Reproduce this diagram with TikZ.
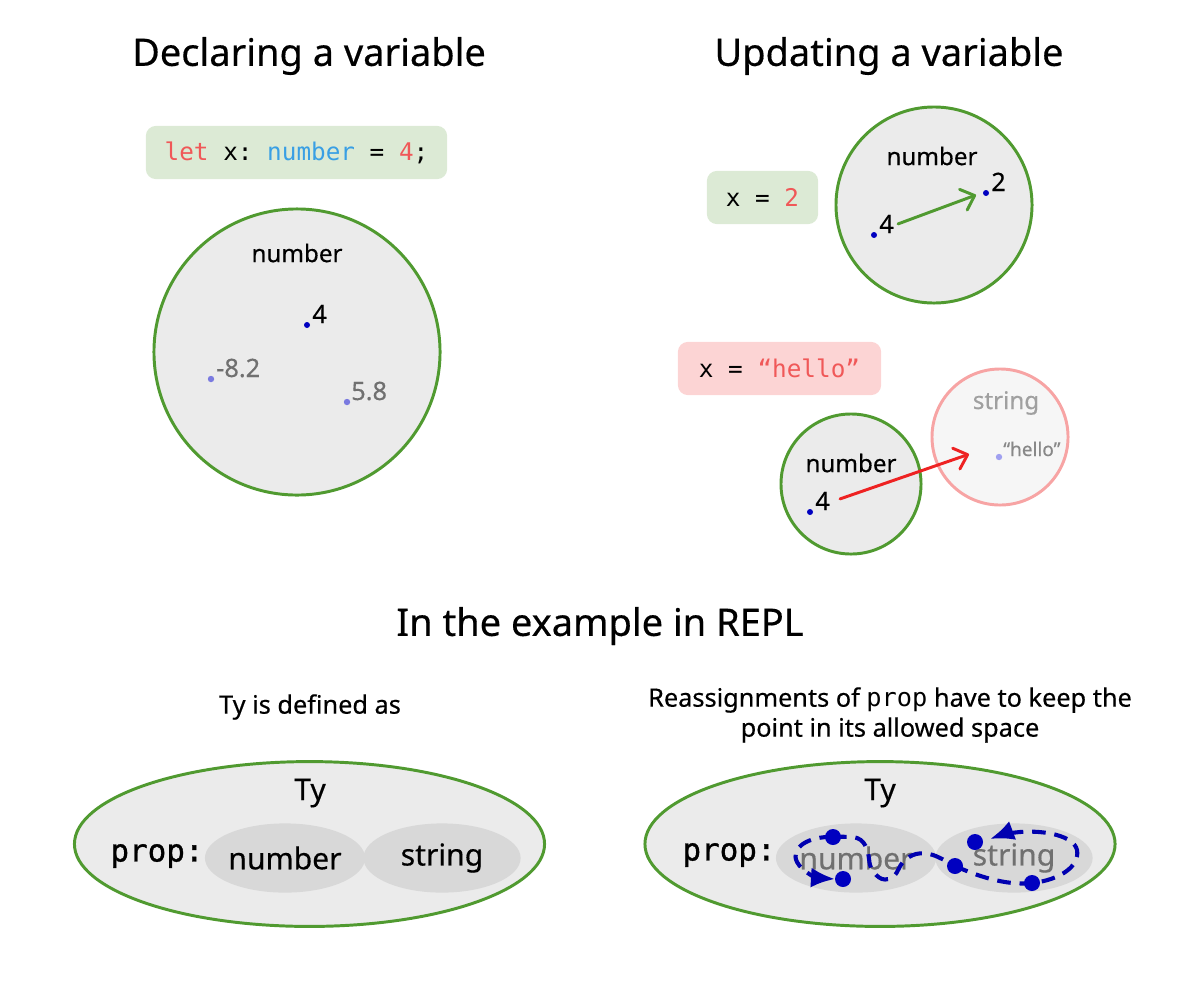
\documentclass[tikz,border=0pt]{standalone}
\usepackage{fontspec}
\setmainfont{Noto Sans}[FakeBold=0.4]
\setmonofont{DejaVu Sans Mono}
\newfontfamily\propfont[FakeBold=1]{DejaVu Sans Mono}
\usetikzlibrary{shapes.geometric,arrows.meta}
\definecolor{grn}{RGB}{80,154,48}
\definecolor{circfill}{RGB}{235,235,235}
\definecolor{codegreen}{RGB}{220,234,213}
\definecolor{kwred}{RGB}{240,88,88}
\definecolor{tyblue}{RGB}{57,159,228}
\definecolor{pinkbox}{RGB}{252,212,212}
\definecolor{pinkline}{RGB}{247,164,164}
\definecolor{strfill}{RGB}{246,246,246}
\definecolor{redarrow}{RGB}{238,34,34}
\definecolor{dotblue}{RGB}{0,0,192}
\definecolor{lightdot}{RGB}{122,122,224}
\definecolor{graytxt}{RGB}{112,112,112}
\definecolor{innerfill}{RGB}{216,216,216}
\definecolor{hellodot}{RGB}{160,160,240}
\definecolor{strtxt}{RGB}{160,160,160}
\definecolor{pathblue}{RGB}{0,0,176}
\begin{document}
\begin{tikzpicture}[x=0.025cm,y=-0.025cm,
  title/.style={font=\fontsize{27pt}{32pt}\selectfont, inner sep=0},
  sub/.style={font=\fontsize{18pt}{21.3pt}\selectfont, inner sep=0, align=center},
  settl/.style={font=\fontsize{17.2pt}{20pt}\selectfont, inner sep=0},
  codebox/.style={rounded corners=0.25cm, inner sep=0, minimum height=1.33cm, font=\ttfamily\fontsize{17.3pt}{20pt}\selectfont},
  setcirc/.style={circle, draw=grn, line width=2.1pt, fill=circfill, inner sep=0},
  lbl/.style={font=\fontsize{18pt}{20pt}\selectfont, inner sep=0, anchor=base west},
  dot/.style={circle, fill=dotblue, inner sep=0, minimum size=0.15cm},
  ldot/.style={circle, fill=lightdot, inner sep=0, minimum size=0.16cm},
  bigdot/.style={circle, fill=dotblue, inner sep=0, minimum size=0.4cm},
  outerell/.style={ellipse, draw=grn, line width=2.1pt, fill=circfill, inner sep=0, minimum width=11.75cm, minimum height=4.12cm},
  innerell/.style={ellipse, fill=innerfill, inner sep=0, minimum width=3.93cm, minimum height=1.73cm, font=\fontsize{21.4pt}{24pt}\selectfont},
  tytxt/.style={font=\fontsize{21.4pt}{24pt}\selectfont, inner sep=0},
  proptxt/.style={font=\propfont\fontsize{22pt}{24pt}\selectfont, inner sep=0},
  barb/.style={-{Straight Barb[length=0.3cm,width=0.55cm,line cap=round,line join=round]}, line width=2.1pt, line cap=round},
  dpath/.style={draw=pathblue, line width=2.9pt, dash pattern=on 0.34cm off 0.22cm},
  dtip/.style={-{Latex[length=0.6cm,width=0.5cm]}}
]
\useasboundingbox (0,0) rectangle (1200,1000);

% ---------- Declaring a variable ----------
\node[title] (t1) at (309,56) {Declaring a variable};
\node[codebox, fill=codegreen, minimum width=7.53cm] (code1) at (296.5,152.5)
  {\textcolor{kwred}{let} x: \textcolor{tyblue}{number} = \textcolor{kwred}{4};};
\node[setcirc, minimum size=7.15cm] (c1) at (297,352) {};
\node[settl] (c1t) at (297,253) {number};
\node[dot] (d1a) at (307,325) {};
\node[lbl] (l1a) at (312,323) {4};
\node[ldot] (d1b) at (211,379) {};
\node[lbl, text=graytxt] (l1b) at (216,377) {-8.2};
\node[ldot] (d1c) at (347,402) {};
\node[lbl, text=graytxt] (l1c) at (351,400) {5.8};

% ---------- Updating a variable ----------
\node[title] (t2) at (889,56) {Updating a variable};
\node[codebox, fill=codegreen, minimum width=2.78cm] (code2) at (762.5,197.5)
  {x = \textcolor{kwred}{2}};
\node[setcirc, minimum size=4.9cm] (c2) at (934,205) {};
\node[settl] (c2t) at (932,156) {number};
\node[dot] (d2a) at (874,235) {};
\node[lbl] (l2a) at (879,233) {4};
\node[dot] (d2b) at (986,193) {};
\node[lbl] (l2b) at (991,191) {2};
\draw[barb, draw=grn] ([xshift=0.1cm]l2a.east) -- ([xshift=-0.25cm,yshift=-0.05cm]d2b.center);

\node[codebox, fill=pinkbox, minimum width=5.08cm] (code3) at (779.5,368.5)
  {x = \textcolor{kwred}{“hello”}};
\node[circle, draw=pinkline, line width=2.1pt, fill=strfill, inner sep=0, minimum size=3.4cm] (c3) at (1000,437) {};
\node[settl, text=strtxt] (c3t) at (1006,403) {string};
\node[circle, fill=hellodot, inner sep=0, minimum size=0.16cm] (d3) at (999,457) {};
\node[lbl, text=strtxt!85!black, font=\fontsize{13.5pt}{15pt}\selectfont] (l3) at (1003,456) {“hello”};
\node[setcirc, minimum size=3.5cm] (c4) at (851,484) {};
\node[settl] (c4t) at (851,463) {number};
\node[dot] (d4) at (810,512) {};
\node[lbl] (l4) at (815,510) {4};
\draw[barb, draw=redarrow] ([xshift=0.25cm,yshift=0.05cm]l4.east) -- ([xshift=-0.75cm,yshift=0.07cm]d3.center);

% ---------- In the example in REPL ----------
\node[title] (t3) at (600,626) {In the example in REPL};
\node[sub] (s1) at (310,707) {Ty is defined as};
\node[sub] (s2) at (890,715) {Reassignments of {\ttfamily prop} have to keep the\\point in its allowed space};

% left ellipse
\node[outerell] (e1) at (309.5,844) {};
\node[tytxt] (e1t) at (310,793) {Ty};
\node[proptxt] (e1p) at (157,856) {prop:};
\node[innerell] (n1) at (285,858) {number};
\node[innerell] (st1) at (442,858) {string};

% right ellipse
\node[outerell] (e2) at (880,844) {};
\node[tytxt] (e2t) at (880,793) {Ty};
\node[proptxt] (e2p) at (729,855) {prop:};
\node[innerell, text=graytxt] (n2) at (856,858) {number};
\node[innerell, text=graytxt] (st2) at (1014,858) {string};

\coordinate (pAc) at (833,837);
\coordinate (pBc) at (835,879);
\coordinate (pCc) at (955,866);
\coordinate (pDc) at (990,839);

\draw[dpath, dtip] (pAc) .. controls (808,836) and (790,848) .. (797,862)
  .. controls (802,872) and (818,878) .. (pBc);
\draw[dpath] plot[smooth, tension=0.6] coordinates
  {(833,837) (857,838) (867,849) (871,868) (882,879) (894,876) (903,862) (916,854) (933,855) (955,866)};
\draw[dpath, dtip] (pCc) .. controls (975,875) and (1005,886) .. (1032,883)
  .. controls (1060,880) and (1080,866) .. (1077,850)
  .. controls (1074,836) and (1045,830) .. (1020,832)
  .. controls (1008,833) and (998,836) .. (pDc);

\node[bigdot] (pA) at (833,837) {};
\node[bigdot] (pB) at (843,879) {};
\node[bigdot] (pC) at (955,866) {};
\node[bigdot] (pD) at (975,842) {};
\node[bigdot] (pE) at (1032,883) {};
\end{tikzpicture}
\end{document}
